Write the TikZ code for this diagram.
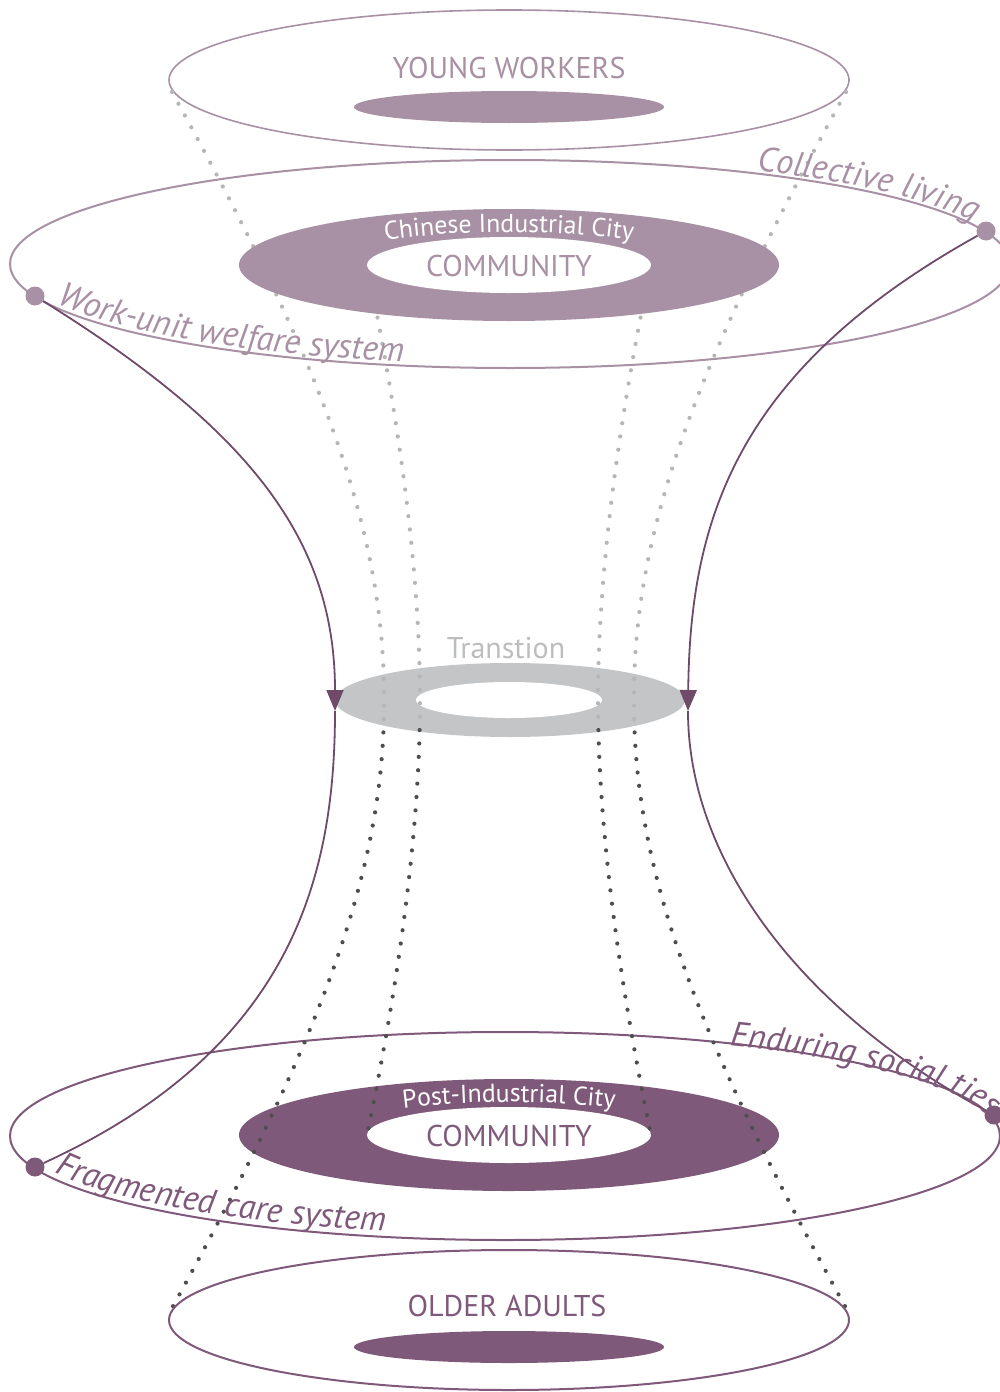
\documentclass[tikz,border=0pt]{standalone}
\usepackage{fontspec}
\setmainfont{PT Sans}
\usetikzlibrary{arrows.meta,decorations.text}

\definecolor{lilac}{RGB}{168,145,164}
\definecolor{plum}{RGB}{127,89,122}
\definecolor{plumdark}{RGB}{111,74,105}
\definecolor{ringgrey}{RGB}{196,197,199}
\definecolor{transgrey}{RGB}{188,189,191}
\definecolor{dotlight}{RGB}{182,182,182}
\definecolor{dotdark}{RGB}{78,78,78}

\newcommand{\bigfont}{\fontsize{30}{30}\selectfont}
\newcommand{\cityfont}{\fontsize{25.8}{25.8}\selectfont}
\newcommand{\curvefont}{\fontsize{34.5}{34.5}\selectfont\itshape}

\begin{document}
\begin{tikzpicture}[x=1pt,y=-1pt,
    rim/.style={line width=2pt},
    dotline/.style={line width=4.2pt, line cap=round, dash pattern=on 0pt off 13.4pt},
    flow/.style={plumdark, line width=1.8pt},
    flowtip/.style={flow, -{Triangle[width=17pt,length=21pt]}},
    enddot/.style={circle, inner sep=0pt, minimum size=19pt, fill=#1},
    headline/.style={font=\bigfont, inner sep=0pt}]
    \useasboundingbox (0,0) rectangle (999,1392);
    \fill[white] (0,0) rectangle (999,1392);

    % named ends of the dotted lines
    \coordinate (ywL) at (172,92);   \coordinate (ywR) at (846,92);
    \coordinate (ciL) at (367,265);  \coordinate (ciR) at (651,265);
    \coordinate (piL) at (367,1135); \coordinate (piR) at (651,1135);
    \coordinate (oaL) at (172,1308); \coordinate (oaR) at (846,1308);

    % young workers
    \draw[lilac, line width=1.6pt] (509,80) ellipse [x radius=340, y radius=70];
    \fill[lilac] (509,107) ellipse [x radius=155, y radius=16];

    % big rims
    \draw[lilac, rim] (510,264) ellipse [x radius=500, y radius=104];
    \draw[plum, rim] (505,1136) ellipse [x radius=495, y radius=104];

    % transition ring
    \fill[ringgrey] (510,700) ellipse [x radius=175, y radius=37];
    \fill[white] (509,700) ellipse [x radius=93, y radius=18];

    % post-industrial ring
    \fill[plum] (509,1135) ellipse [x radius=270, y radius=56];
    \fill[white] (509,1135) ellipse [x radius=142, y radius=28];

    % dotted lines, light above the transition, dark below
    \begin{scope}
        \clip (0,0) rectangle (999,721);
        \draw[dotline, dotlight] (ywL) .. controls (320,360) and (385,530) .. (384,700)
            .. controls (385,870) and (320,1040) .. (oaL);
        \draw[dotline, dotlight] (ciL) .. controls (395,400) and (420,560) .. (420,700)
            .. controls (420,840) and (395,1000) .. (piL);
        \draw[dotline, dotlight] (ciR) .. controls (623,400) and (598,560) .. (598,700)
            .. controls (598,840) and (623,1000) .. (piR);
        \draw[dotline, dotlight] (ywR) .. controls (698,360) and (633,530) .. (634,700)
            .. controls (633,870) and (698,1040) .. (oaR);
    \end{scope}
    \begin{scope}
        \clip (0,721) rectangle (999,1392);
        \draw[dotline, dotdark] (ywL) .. controls (320,360) and (385,530) .. (384,700)
            .. controls (385,870) and (320,1040) .. (oaL);
        \draw[dotline, dotdark] (ciL) .. controls (395,400) and (420,560) .. (420,700)
            .. controls (420,840) and (395,1000) .. (piL);
        \draw[dotline, dotdark] (ciR) .. controls (623,400) and (598,560) .. (598,700)
            .. controls (598,840) and (623,1000) .. (piR);
        \draw[dotline, dotdark] (ywR) .. controls (698,360) and (633,530) .. (634,700)
            .. controls (633,870) and (698,1040) .. (oaR);
    \end{scope}

    % chinese industrial ring
    \fill[lilac] (509,265) ellipse [x radius=270, y radius=56];
    \fill[white] (509,265) ellipse [x radius=142, y radius=28];

    % older adults
    \draw[plum, rim] (509,1320) ellipse [x radius=340, y radius=70];
    \fill[plum] (509,1347) ellipse [x radius=155, y radius=16];

    % flows
    \node[enddot=lilac] (workunit) at (35,296) {};
    \node[enddot=lilac] (collective) at (986,231) {};
    \node[enddot=plum] (fragmented) at (35,1167) {};
    \node[enddot=plum] (enduring) at (994,1115) {};
    \coordinate (midleft) at (335,711);
    \coordinate (midright) at (688,711);
    \draw[flowtip] (workunit) .. controls (250,430) and (335,540) .. (midleft);
    \draw[flow] (midleft) .. controls (335,880) and (290,1050) .. (fragmented);
    \draw[flowtip] (collective) .. controls (736,370) and (690,520) .. (midright);
    \draw[flow] (midright) .. controls (688,860) and (800,1010) .. (enduring);

    % labels
    \node[headline, text=lilac] (young) at (509,68) {YOUNG WORKERS};
    \node[headline, text=lilac] (community) at (509,266) {COMMUNITY};
    \node[headline, text=transgrey] (transition) at (506,648) {Transtion};
    \node[headline, text=plum] (community2) at (509,1136) {COMMUNITY};
    \node[headline, text=plum] (older) at (507,1306) {OLDER ADULTS};

    \path[decorate, decoration={text along path, text align=center, text color=white,
        text={|\cityfont|Chinese Industrial City}}]
        plot[domain=180:360, samples=60, variable=\t] ({509+200*cos(\t)},{272+40*sin(\t)});
    \path[decorate, decoration={text along path, text align=center, text color=white,
        text={|\cityfont|Post-Industrial City}}]
        plot[domain=180:360, samples=60, variable=\t] ({509+200*cos(\t)},{1142+40*sin(\t)});

    \path[decorate, decoration={text along path, raise=3pt, text color=lilac,
        text={|\curvefont|Collective living}}]
        plot[domain=-60.5:-5, samples=50, variable=\t] ({510+500*cos(\t)},{264+104*sin(\t)});
    \path[decorate, decoration={text along path, raise=4pt, text color=lilac,
        text={|\curvefont|Work-unit welfare system}}]
        plot[domain=0:75, samples=60, variable=\t] ({510+500*cos(155.5-\t)},{264+104*sin(155.5-\t)});
    \path[decorate, decoration={text along path, raise=6pt, text color=plum,
        text={|\curvefont|Fragmented care system}}]
        plot[domain=0:75, samples=60, variable=\t] ({505+495*cos(156.2-\t)},{1136+104*sin(156.2-\t)});
    \path[decorate, decoration={text along path, raise=-2pt, text color=plum,
        text={|\curvefont|Enduring social ties}}]
        plot[domain=-63:5, samples=60, variable=\t] ({505+495*cos(\t)},{1136+104*sin(\t)});
\end{tikzpicture}
\end{document}
